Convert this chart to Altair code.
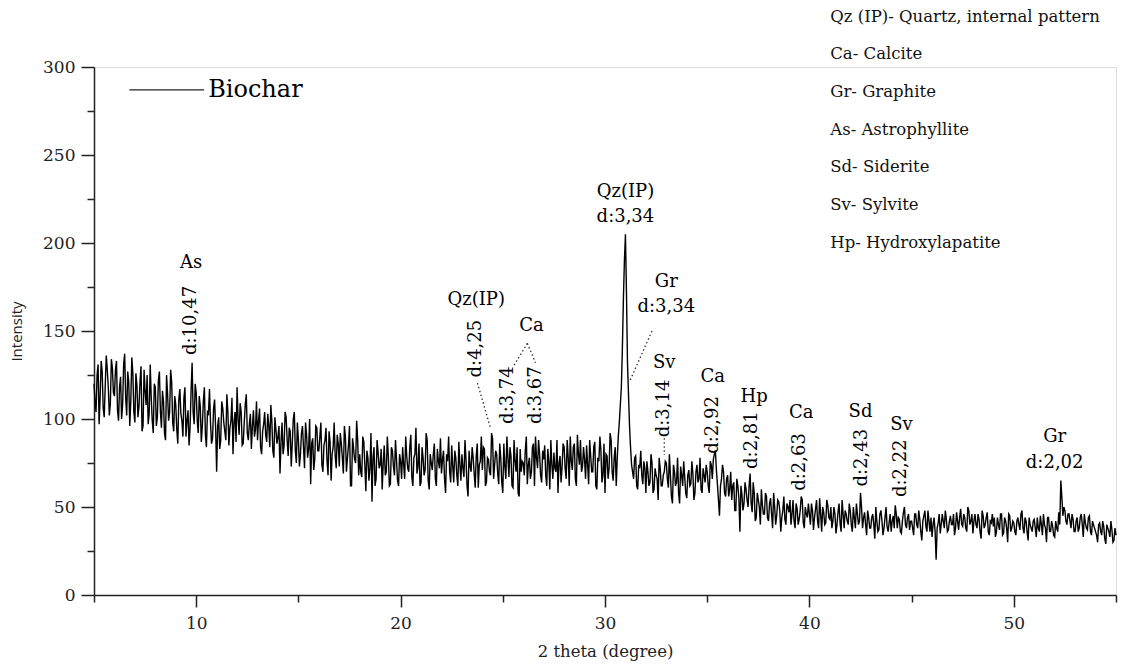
import altair as alt
import pandas as pd

# ---- XRD pattern, read at 2theta = 5.0, 5.1, ... 55.0 ----
x_start = 5.0
x_step = 0.1
intensity = [
    120, 104, 131, 112, 127, 101, 136, 118, 109, 129,   # 5
    113, 133, 99, 124, 108, 137, 102, 121, 110, 126,    # 6
    98, 119, 107, 130, 96, 116, 125, 103, 112, 92,      # 7
    118, 101, 127, 95, 110, 88, 114, 104, 121, 93,      # 8
    108, 86, 117, 99, 112, 90, 105, 95, 132, 97,        # 9
    115, 92, 107, 96, 118, 84, 103, 98, 89, 111,        # 10
    70, 101, 88, 106, 93, 114, 85, 99, 80, 104,         # 11
    118, 91, 104, 86, 108, 92, 97, 83, 105, 94,         # 12
    88, 106, 80, 97, 91, 103, 84, 99, 78, 94,           # 13
    90, 69, 98, 85, 101, 79, 93, 86, 104, 75,           # 14
    88, 80, 96, 72, 91, 83, 63, 89, 77, 95,             # 15
    82, 98, 70, 88, 76, 93, 65, 84, 79, 91,             # 16
    73, 86, 69, 90, 78, 96, 62, 83, 75, 88,             # 17
    80, 67, 87, 59, 78, 72, 53, 84, 66, 81,             # 18
    74, 60, 85, 70, 79, 63, 82, 68, 77, 62,             # 19
    76, 84, 66, 79, 70, 91, 62, 80, 69, 86,             # 20
    64, 78, 71, 88, 60, 75, 80, 66, 83, 72,             # 21
    69, 82, 58, 76, 70, 85, 64, 78, 62, 74,             # 22
    80, 67, 77, 56, 73, 84, 69, 79, 61, 76,             # 23
    71, 83, 64, 77, 68, 89, 74, 80, 63, 78,             # 24
    58, 73, 90, 67, 79, 61, 76, 84, 56, 70,             # 25
    75, 82, 63, 78, 70, 86, 90, 72, 80, 64,             # 26
    77, 68, 83, 60, 74, 81, 70, 58, 79, 73,             # 27
    84, 66, 78, 90, 71, 86, 62, 80, 88, 73,             # 28
    77, 85, 63, 79, 70, 87, 60, 76, 82, 68,             # 29
    58, 79, 72, 88, 65, 84, 78, 98, 118, 168,           # 30
    205, 132, 96, 74, 66, 79, 60, 72, 68, 76,           # 31
    58, 70, 64, 75, 60, 68, 54, 72, 62, 70,             # 32
    75, 61, 68, 52, 70, 64, 58, 73, 62, 67,             # 33
    55, 71, 63, 69, 58, 74, 66, 60, 72, 64,             # 34
    70, 58, 74, 77, 82, 63, 45, 66, 70, 56,             # 35
    68, 60, 54, 64, 48, 62, 36, 57, 52, 60,             # 36
    50, 69, 47, 58, 44, 54, 40, 51, 46, 56,             # 37
    42, 55, 38, 50, 45, 53, 36, 48, 43, 52,             # 38
    47, 40, 54, 38, 49, 43, 56, 41, 50, 44,             # 39
    46, 52, 37, 49, 42, 55, 36, 47, 41, 51,             # 40
    43, 38, 50, 35, 47, 41, 54, 38, 46, 40,             # 41
    48, 36, 44, 52, 40, 58, 38, 47, 34, 44,             # 42
    38, 46, 32, 42, 37, 48, 34, 44, 39, 41,             # 43
    36, 45, 51, 38, 43, 35, 47, 40, 44, 37,             # 44
    42, 34, 46, 38, 43, 31, 45, 39, 48, 36,             # 45
    33, 44, 20, 41, 35, 46, 38, 43, 37, 45,             # 46
    40, 34, 47, 37, 49, 39, 44, 36, 48, 42,             # 47
    35, 46, 38, 43, 32, 45, 40, 47, 34, 41,             # 48
    39, 33, 44, 37, 46, 35, 42, 30, 45, 38,             # 49
    41, 34, 44, 37, 48, 35, 42, 31, 40, 36,             # 50
    43, 33, 38, 45, 34, 40, 30, 44, 36, 39,             # 51
    33, 38, 47, 65, 45, 48, 40, 46, 38, 43,             # 52
    36, 44, 38, 46, 33, 41, 37, 45, 34, 40,             # 53
    36, 30, 41, 34, 39, 29, 38, 33, 37, 31,             # 54
    34,                                                 # 55
]
# ---- readings in between, at 2theta = 5.05, 5.15, ... 54.95 ----
x_start_mid = 5.05
intensity_mid = [
    110, 125, 97, 133, 106, 119, 128, 102, 134, 115,    # 5
    128, 105, 118, 100, 131, 112, 127, 96, 135, 104,    # 6
    126, 101, 121, 93, 128, 108, 97, 131, 99, 120,      # 7
    96, 122, 104, 116, 92, 125, 99, 128, 98, 113,       # 8
    94, 111, 103, 90, 118, 99, 85, 116, 104, 120,       # 9
    99, 113, 87, 110, 91, 104, 117, 86, 106, 95,        # 10
    96, 83, 110, 98, 88, 104, 95, 112, 98, 87,          # 11
    100, 109, 85, 98, 114, 88, 103, 96, 90, 110,        # 12
    99, 84, 93, 104, 87, 96, 108, 82, 101, 86,          # 13
    96, 87, 80, 104, 88, 95, 73, 100, 82, 98,           # 14
    73, 92, 84, 98, 78, 100, 86, 71, 96, 82,            # 15
    90, 74, 85, 95, 68, 87, 80, 98, 72, 86,             # 16
    92, 78, 96, 70, 85, 62, 89, 77, 99, 68,             # 17
    70, 90, 74, 82, 65, 92, 78, 62, 88, 72,             # 18
    83, 75, 68, 90, 62, 84, 73, 88, 65, 80,             # 19
    66, 74, 90, 72, 84, 67, 78, 95, 73, 62,             # 20
    84, 68, 92, 65, 80, 71, 86, 62, 76, 89,             # 21
    77, 66, 80, 90, 64, 73, 82, 68, 87, 65,             # 22
    72, 88, 62, 82, 70, 78, 61, 86, 74, 90,             # 23
    84, 62, 78, 70, 92, 66, 82, 69, 86, 64,             # 24
    86, 66, 78, 84, 62, 88, 70, 58, 83, 76,             # 25
    68, 90, 74, 66, 84, 62, 78, 88, 68, 82,             # 26
    85, 62, 76, 88, 66, 72, 88, 75, 64, 86,             # 27
    72, 88, 62, 76, 84, 66, 91, 74, 70, 84,             # 28
    66, 74, 88, 70, 84, 62, 78, 90, 64, 86,             # 29
    80, 66, 92, 70, 78, 62, 90, 108, 140, 190,          # 30
    172, 114, 84, 70, 78, 62, 74, 82, 63, 72,           # 31
    76, 62, 80, 58, 72, 66, 78, 62, 68, 76,             # 32
    66, 80, 56, 74, 62, 78, 52, 68, 76, 58,             # 33
    68, 62, 76, 54, 70, 64, 78, 58, 68, 74,             # 34
    62, 76, 66, 80, 71, 54, 62, 74, 58, 66,             # 35
    56, 70, 62, 48, 66, 55, 62, 48, 64, 54,             # 36
    62, 52, 64, 42, 58, 50, 60, 46, 58, 44,             # 37
    52, 46, 58, 40, 54, 48, 44, 56, 40, 50,             # 38
    54, 46, 42, 52, 40, 48, 54, 38, 46, 52,             # 39
    40, 48, 44, 54, 38, 46, 50, 40, 54, 44,             # 40
    50, 42, 46, 40, 52, 36, 46, 48, 42, 52,             # 41
    40, 50, 38, 46, 42, 50, 44, 40, 48, 38,             # 42
    44, 40, 50, 36, 46, 42, 38, 50, 36, 46,             # 43
    42, 38, 46, 44, 36, 42, 50, 38, 46, 42,             # 44
    38, 46, 40, 48, 36, 42, 48, 36, 42, 44,             # 45
    40, 36, 38, 46, 40, 42, 48, 36, 42, 40,             # 46
    46, 38, 42, 44, 40, 46, 38, 50, 40, 46,             # 47
    42, 40, 46, 36, 48, 38, 44, 36, 42, 46,             # 48
    44, 36, 40, 46, 34, 44, 38, 46, 36, 42,             # 49
    36, 42, 40, 46, 38, 44, 36, 44, 38, 42,             # 50
    38, 44, 36, 40, 46, 38, 44, 36, 42, 34,             # 51
    42, 36, 40, 56, 50, 42, 46, 42, 46, 36,             # 52
    42, 36, 44, 40, 46, 38, 44, 36, 42, 38,             # 53
    34, 40, 36, 42, 32, 40, 36, 42, 30, 38,             # 54
]
two_theta = [round(x_start + i * x_step, 2) for i in range(len(intensity))]
two_theta_mid = [round(x_start_mid + i * x_step, 2) for i in range(len(intensity_mid))]

# ---- horizontal peak labels ----
lab_text = ["As", "Qz(IP)", "Ca", "Qz(IP)", "d:3,34", "Gr", "d:3,34", "Sv",
            "Ca", "Hp", "Ca", "Sd", "Sv", "Gr", "d:2,02"]
lab_x = [9.75, 23.7, 26.4, 31.0, 31.0, 33.0, 33.0, 32.9,
         35.27, 37.3, 39.6, 42.5, 44.5, 52.0, 52.0]
lab_y = [188.6, 167.6, 153, 229, 215, 178, 163.6, 132,
         124, 112.5, 103.4, 104, 96.6, 90, 75]

# ---- rotated d-spacing labels ----
rot_text = ["d:10,47", "d:4,25", "d:3,74", "d:3,67", "d:3,14", "d:2,92",
            "d:2,81", "d:2,63", "d:2,43", "d:2,22"]
rot_x = [9.75, 23.7, 25.27, 26.63, 32.9, 35.27, 37.2, 39.55, 42.55, 44.5]
rot_y = [156, 140, 113.6, 113.6, 106, 96.6, 88, 75.6, 78, 72]

# ---- dotted leader lines ----
lead_x = [23.76, 26.2, 26.2, 32.3, 32.9]
lead_y = [120.4, 143, 143, 150, 89]
lead_x2 = [24.38, 25.5, 26.6, 31.23, 32.9]
lead_y2 = [95.6, 129.5, 132, 122, 79.5]

# ---- phase key (top right) ----
key_text = ["Qz (IP)- Quartz, internal pattern", "Ca- Calcite", "Gr- Graphite",
            "As- Astrophyllite", "Sd- Siderite", "Sv- Sylvite", "Hp- Hydroxylapatite"]
key_x = [41.02] * 7
key_y = [328.4, 307.4, 285.8, 264.2, 243.2, 221.6, 200.0]

# ---- series legend ----
legend_label = "Biochar"
legend_x, legend_x2, legend_y = 6.73, 10.39, 287

df = pd.DataFrame({"theta": two_theta + two_theta_mid,
                   "intensity": intensity + intensity_mid}).sort_values("theta")
df_lab = pd.DataFrame({"t": lab_text, "x": lab_x, "y": lab_y})
df_rot = pd.DataFrame({"t": rot_text, "x": rot_x, "y": rot_y})
df_lead = pd.DataFrame({"x": lead_x, "y": lead_y, "x2": lead_x2, "y2": lead_y2})
df_key = pd.DataFrame({"t": key_text, "x": key_x, "y": key_y})
df_leg = pd.DataFrame({"t": [legend_label], "x": [legend_x], "x2": [legend_x2], "y": [legend_y]})

SERIF = "DejaVu Serif"
xscale = alt.Scale(domain=[5, 55], nice=False, zero=False)
yscale = alt.Scale(domain=[0, 300], nice=False)

x_axis = alt.Axis(
    values=list(range(5, 56, 5)),
    labelExpr="datum.value % 10 === 0 ? datum.label : ''",
    tickSize={"condition": {"test": "datum.value % 10 === 0", "value": 12}, "value": 7},
    grid=False, domainColor="#222", domainWidth=1.5, tickColor="#222", tickWidth=1.5,
    labelFont=SERIF, labelFontSize=17, labelColor="#222", labelPadding=8,
    title="2 theta (degree)", titleFont=SERIF, titleFontSize=16.5, titleFontWeight="normal",
    titleColor="#222", titlePadding=12,
)
y_axis = alt.Axis(
    values=list(range(0, 301, 25)),
    labelExpr="datum.value % 50 === 0 ? datum.label : ''",
    tickSize={"condition": {"test": "datum.value % 50 === 0", "value": 13}, "value": 7},
    grid=False, domainColor="#222", domainWidth=1.5, tickColor="#222", tickWidth=1.5,
    labelFont=SERIF, labelFontSize=17, labelColor="#222", labelPadding=6,
    title="Intensity", titleFont="Open Sans", titleFontSize=15, titleFontWeight="normal",
    titleColor="#222", titlePadding=18,
)

line = alt.Chart(df).mark_line(color="black", strokeWidth=1.4).encode(
    x=alt.X("theta:Q", scale=xscale, axis=x_axis),
    y=alt.Y("intensity:Q", scale=yscale, axis=y_axis),
    order="theta:Q",
)

labels = alt.Chart(df_lab).mark_text(font=SERIF, fontSize=18, color="#000", baseline="middle").encode(
    x=alt.X("x:Q", scale=xscale), y=alt.Y("y:Q", scale=yscale), text="t:N")

rot_labels = alt.Chart(df_rot).mark_text(font=SERIF, fontSize=18, color="#000", angle=270,
                                          baseline="middle").encode(
    x=alt.X("x:Q", scale=xscale), y=alt.Y("y:Q", scale=yscale), text="t:N")

leaders = alt.Chart(df_lead).mark_rule(color="#333", strokeWidth=1.3, strokeDash=[1.5, 2.5]).encode(
    x=alt.X("x:Q", scale=xscale), y=alt.Y("y:Q", scale=yscale), x2="x2:Q", y2="y2:Q")

key = alt.Chart(df_key).mark_text(font=SERIF, fontSize=16.5, color="#111", align="left",
                                  baseline="middle").encode(
    x=alt.X("x:Q", scale=xscale), y=alt.Y("y:Q", scale=yscale), text="t:N")

leg_line = alt.Chart(df_leg).mark_rule(color="#222", strokeWidth=1.2).encode(
    x=alt.X("x:Q", scale=xscale), x2="x2:Q", y=alt.Y("y:Q", scale=yscale))
leg_text = alt.Chart(df_leg).mark_text(font=SERIF, fontSize=24, color="#000", align="left",
                                       baseline="middle", dx=4).encode(
    x=alt.X("x2:Q", scale=xscale), y=alt.Y("y:Q", scale=yscale), text="t:N")

chart = alt.layer(line, leaders, labels, rot_labels, key, leg_line, leg_text).properties(
    width=1022, height=528,
    autosize=alt.AutoSizeParams(type="none"),
    padding={"left": 94, "top": 67, "right": 8, "bottom": 77},
).configure_view(stroke=None).configure(background="white")

chart.save("out.html", embed_options={"renderer": "svg", "actions": False})
